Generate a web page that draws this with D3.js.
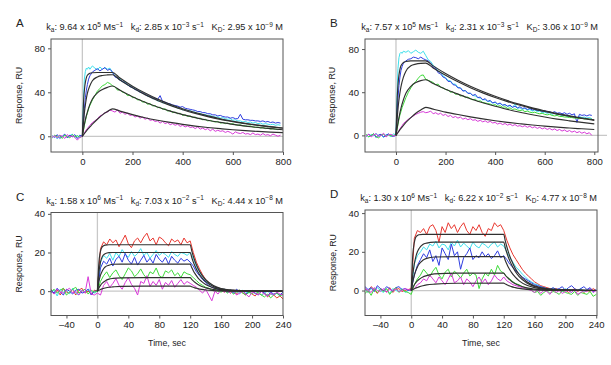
<!DOCTYPE html>
<html>
<head>
<meta charset="utf-8">
<script src="https://cdn.jsdelivr.net/npm/d3@7"></script>
<style>
body { margin: 0; background: #fff; }
svg text { font-family: "Liberation Sans", Arial, Helvetica, sans-serif; fill: #222; }
</style>
</head>
<body>
<svg id="chart" width="611" height="365"></svg>
<script>

// sampling times (sec)
var timeAB = d3.range(-120, 0, 10).concat([0, 4, 8, 12, 16, 20, 25], d3.range(30, 800, 10));
var timeCD = d3.range(-60, 244, 4);
var fitTimeAB = [0, 5, 10, 15, 20, 30, 40, 60, 80, 100, 120].concat(d3.range(150, 850, 50));
var fitTimeCD = [0, 2, 4, 6, 8, 10, 15, 20, 30, 60, 120, 122, 124, 126, 128, 130, 135, 140, 150, 160, 180, 240];

// panel titles
var panelIds = ["A", "B", "C", "D"];
var kaMant = ["9.64", "7.57", "1.58", "1.30"];
var kaExp = ["5", "5", "6", "6"];
var kdMant = ["2.85", "2.31", "7.03", "6.22"];
var kdExp = ["\u22123", "\u22123", "\u22122", "\u22122"];
var KDMant = ["2.95", "3.06", "4.44", "4.77"];
var KDExp = ["\u22129", "\u22129", "\u22128", "\u22128"];

// tick labels
var xTicksAB = [0, 200, 400, 600, 800];
var yTicksAB = [0, 40, 80];
var xTicksCD = [-40, 0, 40, 80, 120, 160, 200, 240];
var yTicksCD = [0, 20, 40];

// ---- panel A responses (RU)
var aCyan = [-1.5, 0.5, -2.5, 1, -0.5, 1.5, -1, 0.5, 2, -1, 0.5, -0.5,
    0, 30, 52, 59, 62, 61, 63,
    61, 64, 62, 60.5, 63, 61, 62.5, 61, 62, 58,
    55, 53, 52.5, 49.5, 49.5, 46.5, 46.5, 44, 43.5, 41.5, 41, 39, 38.5, 36.5, 36.5, 34, 34.5, 32, 32.5, 30.5,
    30.5, 29, 29, 27, 27.5, 25.5, 26, 24, 24.5, 23, 23.5, 22, 22, 20.5, 21, 19.5, 20, 18.5, 19, 18,
    17.5, 17.5, 16.5, 17, 16, 15.5, 16, 14.5, 15, 14, 14, 13, 13.5, 12.5, 13, 12, 12.5, 11.5, 12, 11,
    11.5, 11, 10.5, 11, 10, 10.5, 10];
var aBlue = [0.5, -1, 1.5, -2, 0, 2, -1.5, 1, -0.5, 1.5, -2, 1,
    0, 12, 25, 35, 42, 47, 52,
    55, 58.5, 60, 61.5, 59.5, 61, 62.5, 60, 61, 58.5,
    54, 53, 51, 50, 48.5, 47, 45, 44.5, 42.5, 42, 40, 39.5, 38, 37, 36, 35, 34, 33.5, 37, 31.5,
    31, 30, 29.5, 28.5, 28, 27.5, 26.5, 27, 25.5, 25, 24.5, 24, 23.5, 22.5, 22.5, 21.5, 21.5, 20.5, 20.5, 19.5,
    19.5, 18.5, 19, 18, 17.5, 17.5, 16.5, 17, 16, 16, 20, 15.5, 15, 15, 14.5, 14.5, 14, 14, 13.5, 14,
    13, 13.5, 12.5, 13, 12, 12.5, 12];
var aGreen = [-1, 1, -0.5, 0.5, -2, 1, 0, -1.5, 1.5, -0.5, 0.5, -1,
    0, 5, 10, 14, 18, 21, 25,
    28, 33, 37, 41, 43.5, 46, 47, 49, 48, 46,
    45, 42, 42.5, 40, 39.5, 37, 37.5, 35, 35.5, 33, 33.5, 31, 31.5, 29, 30, 27.5, 28, 26, 26.5, 24.5,
    25, 23, 23.5, 21.5, 22, 20.5, 21, 19, 19.5, 18, 18.5, 17, 17.5, 16, 16.5, 15, 15.5, 14, 14.5, 13.5,
    13, 13.5, 12, 12.5, 11.5, 12, 11, 11.5, 10.5, 10, 10.5, 9.5, 9.5, 9, 9.5, 8.5, 8, 8.5, 7.5, 8,
    7, 7.5, 6.5, 7, 6.5, 6, 6.5];
var aMagenta = [-1, 0.5, -1.5, 1, 0, -2, 1.5, -0.5, 0.5, -1, -3.5, -1,
    0, 1.5, 3, 4.5, 6, 7, 8.5,
    10, 12.5, 14, 16, 18.5, 19.5, 21.5, 22, 24, 23,
    22, 24, 21, 22, 20, 21, 19, 19.5, 17.5, 18.5, 16.5, 17.5, 15.5, 16.5, 14.5, 15, 13.5, 14, 12, 13.5,
    11.5, 12.5, 10.5, 11.5, 10, 11, 9, 10, 8.5, 9.5, 8, 8.5, 7, 8.5, 6.5, 7.5, 6, 7, 5, 6.5,
    4.5, 5.5, 4.5, 5, 3.5, 4.5, 3.5, 2, 4, 3, 2.5, 3.5, 2, 2.5, 1.5, 3, 1.5, 2, 1, 2.5,
    1, 1.5, 0.5, 2, 1, 0, 1];
var aFit1 = [0, 32, 46, 52.5, 55.5, 57.3, 57.8, 58, 58, 58, 58, 53.0, 45.6, 39.3, 33.8, 29.1, 25.1, 21.6, 18.6, 16.0, 13.7, 11.8, 10.2, 8.8, 7.5];
var aFit2 = [0, 14, 25, 33, 39, 46, 50.5, 54, 55.3, 55.8, 56, 51.2, 44.1, 37.9, 32.6, 28.1, 24.2, 20.8, 17.9, 15.4, 13.3, 11.4, 9.9, 8.5, 7.3];
var aFit3 = [0, 7, 13, 18, 22, 29, 34, 39.5, 42.5, 44.5, 45.7, 41.8, 36.0, 30.9, 26.6, 22.9, 19.7, 17.0, 14.6, 12.6, 10.8, 9.3, 8.0, 6.9, 5.9];
var aFit4 = [0, 1.5, 3, 4.5, 6, 8.5, 11, 15.5, 19.5, 22.5, 25, 22.9, 19.7, 16.9, 14.6, 12.6, 10.8, 9.3, 8.0, 6.9, 5.9, 5.1, 4.4, 3.8, 3.3];

// ---- panel B responses (RU)
var bCyan = [0.5, -1.5, 1, -0.5, 2, -1, 0.5, -2, 1, 0, -1, 1.5,
    0, 35, 62, 72, 76, 77, 76,
    78, 77, 78.5, 76, 77.5, 79, 77, 76, 78, 74,
    70, 68.5, 65, 63, 59.5, 58.5, 55, 53.5, 51, 50.5, 47.5, 47.5, 44.5, 44, 41.5, 41.5, 39, 39, 37, 36.5,
    35, 34.5, 33, 33, 31.5, 31.5, 30, 30.5, 29, 29.5, 28, 28.5, 27, 27.5, 26, 29, 25, 25.5, 24, 25,
    23.5, 24, 22.5, 23.5, 22, 22.5, 21, 21.5, 20.5, 21, 19.5, 20.5, 19, 19.5, 18.5, 19, 17.5, 18.5, 17, 18,
    16.5, 17.5, 16.5, 17, 16, 16.5, 15.5];
var bBlue = [-1, 1, -0.5, 1.5, -2, 0.5, 1, -1.5, 0, 1.5, -0.5, -1,
    0, 18, 34, 46, 54, 60, 64,
    67, 69, 70.5, 71, 72.5, 72, 71, 72.5, 71, 70,
    69, 67, 63, 62, 58, 57, 54, 53, 50, 50, 47, 46.5, 44, 44, 41, 41.5, 39, 39, 37, 38,
    35, 35.5, 33, 34, 31.5, 32.5, 30, 31, 29, 30, 28, 28.5, 27, 28, 26, 27, 25.5, 26.5, 25, 25.5,
    24, 25, 23.5, 24, 23, 23.5, 22, 23, 21.5, 22, 21, 22, 20.5, 21, 20, 21, 19.5, 20.5, 19, 20,
    12, 19.5, 18.5, 19, 18, 19, 18.5];
var bGreen = [1, -1.5, 0, 1.5, -1, -2.5, 0.5, 1, -1, 0.5, -0.5, 0,
    0, 5, 10, 15, 19, 22, 26,
    29, 35, 40, 44, 47.5, 50, 53, 55.5, 56, 52,
    51, 50, 49, 47, 47.5, 44.5, 44, 42.5, 42, 40, 40.5, 38, 38.5, 36.5, 37, 35, 35.5, 34, 33, 33.5,
    31.5, 32, 30.5, 30, 29.5, 29, 28, 28.5, 27, 27.5, 26, 26.5, 25, 25.5, 24, 24.5, 23.5, 23, 23.5, 22,
    22.5, 21.5, 21, 21.5, 20.5, 20, 20.5, 19.5, 19, 19.5, 18.5, 18, 18.5, 17.5, 17.5, 17, 17, 16.5, 16.5, 16,
    16, 15.5, 16, 15, 15.5, 15, 15];
var bMagenta = [-0.5, 1, -1.5, 0.5, 1.5, -1, 0, 2, -1.5, 0.5, 1, -0.5,
    0, 1.5, 3, 4.5, 6, 7.5, 9,
    11, 13, 15, 16.5, 18, 19.5, 20.5, 21.5, 22, 21,
    21.5, 22.5, 20, 21, 19.5, 20.5, 18.5, 19.5, 17.5, 18.5, 16.5, 17.5, 16, 17, 15, 16, 14.5, 15.5, 14, 14.5,
    13, 14, 12.5, 13.5, 12, 13, 11.5, 12, 10.5, 11.5, 10, 11, 9.5, 10.5, 9, 10, 8.5, 9, 8, 9,
    7.5, 8.5, 7, 8, 6.5, 7.5, 6, 7, 5.5, 6.5, 5, 6, 4.5, 5.5, 4, 5, 3.5, 4.5, 3, 4,
    2.5, 3.5, 2, 3, 1.5, 2.5, 0];
var bFit1 = [0, 35, 52, 60, 64.5, 67.5, 68.5, 69, 69, 69, 69, 64.4, 57.3, 51.1, 45.5, 40.6, 36.2, 32.2, 28.7, 25.5, 22.8, 20.3, 18.1, 16.1, 14.4];
var bFit2 = [0, 16, 29, 38, 45, 54, 59.5, 64.5, 66, 66.7, 67, 62.5, 55.7, 49.6, 44.2, 39.4, 35.1, 31.3, 27.9, 24.8, 22.1, 19.7, 17.6, 15.6, 13.9];
var bFit3 = [0, 7.5, 14, 20, 25, 33, 39, 45.5, 49, 50.7, 51.5, 48.0, 42.8, 38.2, 34.0, 30.3, 27.0, 24.1, 21.4, 19.1, 17.0, 15.1, 13.5, 12.0, 10.7];
var bFit4 = [0, 1.6, 3.3, 4.9, 6.5, 9.2, 12, 16.5, 20.5, 23.5, 26, 24.3, 21.6, 19.3, 17.2, 15.3, 13.6, 12.1, 10.8, 9.6, 8.6, 7.6, 6.8, 6.1, 5.4];

// ---- panel C responses (RU)
var cRed = [1, -1.5, 0.5, -2, 1.5, -0.5, -1, 1, -2, 0.5, 1.5, -1, 0, -1.5, 0.5,
    0,
    22, 25.5, 24, 27, 25, 26.5, 23, 26, 29, 24.5, 22.5, 26, 27.5, 25, 28, 30, 26, 27.5, 24, 28,
    27, 25, 23.5, 27, 25.5, 26.5, 24, 27.5, 25, 26,
    20, 15, 11.5, 8.5, 6, 4.5, 3, 2, 1, 0.5, -0.5, 0.5, -1, 0, -1.5, 0.5, -1, -2, 0, -1.5,
    -2.5, -0.5, -2, -1, -3, -1.5, -2, -3.5, -2.5, -4];
var cCyan = [-1, 0.5, -2.5, 1, -0.5, 0.5, -1.5, 1.5, -1, -2, 0.5, -0.5, 1, 0, -1,
    0,
    15, 18.5, 17, 19.5, 16, 20, 18, 21.5, 19, 17.5, 20.5, 18, 19.5, 22, 18.5, 20, 17, 19, 21, 18.5,
    20, 19, 17.5, 20.5, 19, 18, 20, 19.5, 18.5, 20,
    17, 13, 10, 7.5, 5.5, 4, 3, 2, 1.5, 0.5, 1, -0.5, 0.5, -1, 0, -1.5, 0.5, -0.5, -1, 0,
    -1.5, -0.5, -2, -1, 0, -1.5, -2, -1, -2.5, -1.5];
var cBlue = [0.5, -1, 1.5, -0.5, -2, 1, 0, -1.5, 0.5, 1, -1, -0.5, 1, -2, 0,
    0,
    12, 15.5, 14, 17, 13, 16.5, 18, 15, 19.5, 16, 14, 17.5, 13.5, 16, 18.5, 15, 17, 14.5, 19, 16.5,
    15, 17.5, 14, 18, 16, 14.5, 17, 15.5, 16.5, 15,
    13, 10, 8, 6, 4.5, 3, 2, 1.5, 1, 0, 1, -0.5, 0.5, -1, 1, -0.5, 0, -1.5, -0.5, 0.5,
    -1, -2, 0, -1, -2.5, -0.5, -1.5, -1, -2, -0.5];
var cGreen = [-0.5, 1, -1, 0.5, 1.5, -2, -0.5, 1, 2, -1, 0, 1, -1.5, 0.5, -0.5,
    0,
    5, 8, 10, 7, 9.5, 11, 8, 6, 9, 12, 10.5, 7.5, 9, 11.5, 8.5, 6.5, 10, 9, 12, 8,
    7, 10.5, 9.5, 11, 8, 9.5, 7, 10, 9, 8.5,
    7, 5.5, 4, 3, 2, 1.5, 0.5, 1, 0, -0.5, 0.5, -1, 0, -1.5, -0.5, 0.5, -1, -2, -0.5, -1.5,
    0, -1, -2, -3, -1.5, -3.5, -2, -1, -2.5, -1.5];
var cMagenta = [0, -1.5, 1, -0.5, -1, 0.5, 1.5, -1, 0, -2, 0.5, -1, 7.5, -1.5, -2,
    -1,
    -2, 3, 5, 2, 4, 6.5, 3, 1, 4.5, 7, 3.5, 1.5, -2, 5, 4, 8, 2.5, 5, 3, 6,
    1, 4.5, 3, 5.5, 2, 4, 6, 3.5, 5, 4,
    3, 2, 0.5, -1, 1, -2, -5, 0, -1.5, 1, -0.5, 0, -1, 0.5, -2, -1, 0, -1.5, -3, -0.5,
    -1, -2, 0, -1.5, -2.5, -1, -2, -0.5, -1.5, -2];
var cFit1 = [0, 15.1, 20.6, 22.8, 23.5, 23.8, 24, 24, 24, 24, 24, 20.9, 18.1, 15.7, 13.7, 11.9, 8.4, 5.9, 2.9, 1.4, 0.4, 0];
var cFit2 = [0, 10, 15, 17.6, 18.8, 19.4, 19.9, 20, 20, 20, 20, 17.4, 15.1, 13.1, 11.4, 9.9, 7.0, 4.9, 2.4, 1.2, 0.3, 0];
var cFit3 = [0, 5, 8.3, 10.2, 11.6, 12.5, 13.4, 13.9, 14, 14, 14, 12.2, 10.6, 9.2, 8.0, 6.9, 4.9, 3.4, 1.7, 0.8, 0.2, 0];
var cFit4 = [0, 1.7, 3.0, 4.0, 4.7, 5.3, 6.2, 6.6, 6.9, 7, 7, 6.1, 5.3, 4.6, 4.0, 3.5, 2.4, 1.7, 0.85, 0.4, 0.1, 0];
var cFit5 = [0, 0.5, 0.9, 1.2, 1.4, 1.6, 2.0, 2.2, 2.5, 2.6, 2.6, 2.3, 2.0, 1.7, 1.5, 1.3, 0.9, 0.6, 0.3, 0.15, 0.04, 0];

// ---- panel D responses (RU)
var dRed = [1, -1, 2, 0.5, -1.5, 1, 0, -0.5, 1.5, -1, 0.5, 1, -0.5, 0, 0.5,
    1,
    27, 31, 30, 32, 29, 33, 34, 31, 25, 33, 30, 35, 32, 34, 30, 33, 35, 31, 29, 33,
    31, 34, 30, 28, 32, 31, 35, 33, 34, 31,
    26, 22, 18.5, 16, 13.5, 11, 9, 7.5, 6, 4.5, 3.5, 2.5, 2, 1.5, 1, 0.5, 1, 0, -0.5, 0.5,
    -1, 0, 1, -0.5, 0.5, -1, 0, -0.5, 1, 0];
var dCyan = [0.5, -1, 1, -0.5, 1.5, 0, -1, 0.5, -1.5, 1, 0, -0.5, 1, -1, 0,
    0,
    14, 18, 20, 22.5, 21, 24, 23, 25.5, 22, 24, 23.5, 21, 25, 23, 26, 22.5, 24.5, 23, 21.5, 25,
    23, 22, 24.5, 23.5, 22, 24, 25, 22.5, 24, 23,
    20, 17, 14.5, 12, 10.5, 8.5, 7, 5.5, 4.5, 3.5, 3, 2, 1.5, 1, 0.5, 1, 0, 0.5, -0.5, 1,
    0, -1, 0.5, 0, 1, -0.5, 0, 1, -1, 0.5];
var dBlue = [2, 0.5, 1.5, -0.5, 2.5, 1, 0, 2, 1, -0.5, 1.5, 2, 0.5, 1, 0,
    0.5,
    8, 13, 16, 19, 17, 21, 15, 18, 13, 22, 19, 16, 24, 18, 20, 11, 17, 19, 22, 16,
    18, 17, 20, 17.5, 19, 16.5, 18, 20.5, 17, 18,
    16, 13.5, 12, 10, 8.5, 7, 6, 5, 4, 3, 2.5, 2, 1.5, 1, 0.5, 1.5, 0.5, 1, 2, 0,
    1.5, 2.5, 1, 0, 1, 2, 0.5, 1.5, -0.5, 0.5];
var dGreen = [-1.5, 0, -2.5, 1, -1, 0.5, -0.5, 1, -2, 0, 1.5, -1, 0.5, -0.5, -1,
    -2,
    3, 6, 8, 11, 9, 7, 10, 12, 8, 6, 9.5, 11, 7, 10, 8.5, 6.5, 9, 11, 7.5, 9,
    8, 1, 6, 9, 7.5, 11, 8, 13, 10, 9,
    7, 6, 4.5, 3.5, 3, 2, 1.5, 1, 0, -1, -0.5, -2.5, -1, 0, -1.5, -0.5, -1, -2, 0, -1,
    -1.5, -2, -0.5, -2.5, -1, -1.5, -2, -0.5, -3, -2];
var dMagenta = [1, 0, -1, 1.5, 0, -0.5, 1, -1, 0.5, 0, 1, -0.5, 0, 1, 0.5,
    0,
    1, 3, 4, 6, 5, 8, 6, 4, 7, 5, 3, 6, 9, 4, 5, 7, 3, 6, 4.5, 2,
    5, 7, 4, 6, 3, 5, 8, 6, 5, 7,
    5, 4, 3, 2.5, 2, 1.5, 1, 0.5, 0, -1, 0.5, -1.5, 0, -0.5, -2, 0.5, -1, 0, -1.5, -0.5,
    0, -1, 0.5, -2, -1, 0, -0.5, 1, -1, 0];
var dFit1 = [0, 18.3, 24.9, 27.6, 28.4, 28.8, 29, 29, 29, 29, 29, 25.6, 22.6, 20.0, 17.6, 15.6, 11.4, 8.4, 4.5, 2.4, 0.7, 0];
var dFit2 = [0, 8.2, 13.8, 17.5, 20, 21.6, 23.8, 24.5, 25, 25, 25, 22.1, 19.5, 17.2, 15.2, 13.4, 9.8, 7.2, 3.9, 2.1, 0.6, 0];
var dFit3 = [0, 4.5, 7.9, 10.3, 12.2, 13.6, 15.6, 16.6, 17.3, 17.5, 17.5, 15.5, 13.7, 12.0, 10.6, 9.4, 6.9, 5.0, 2.7, 1.5, 0.4, 0];
var dFit4 = [0, 1.6, 3.0, 4.1, 5.0, 5.7, 7.0, 7.7, 8.6, 9, 9, 7.9, 7.0, 6.2, 5.5, 4.8, 3.5, 2.6, 1.4, 0.75, 0.2, 0];
var dFit5 = [0, 0.5, 0.9, 1.3, 1.6, 1.9, 2.5, 2.9, 3.3, 3.75, 3.8, 3.4, 3.0, 2.6, 2.3, 2.0, 1.5, 1.1, 0.6, 0.3, 0.1, 0];


var colors = {cyan: "#3fe0ec", blue: "#2f3ee0", green: "#3edb3a", magenta: "#d83ad8", red: "#e8372f"};

var panels = [
    {x0: 51, x1: 283, y0: 39, y1: 152, xd: [-125, 800], yd: [-14.3, 88.5], xt: xTicksAB, yt: yTicksAB,
     time: timeAB, fitTime: fitTimeAB, labelX: 19, zeroExt: 0, xlabel: false,
     data: [[aCyan, "cyan"], [aBlue, "blue"], [aGreen, "green"], [aMagenta, "magenta"]],
     fits: [aFit1, aFit2, aFit3, aFit4]},
    {x0: 365, x1: 598, y0: 39, y1: 152, xd: [-125, 815], yd: [-15.4, 89.3], xt: xTicksAB, yt: yTicksAB,
     time: timeAB, fitTime: fitTimeAB, labelX: 332, zeroExt: 9, xlabel: false,
     data: [[bCyan, "cyan"], [bBlue, "blue"], [bGreen, "green"], [bMagenta, "magenta"]],
     fits: [bFit1, bFit2, bFit3, bFit4]},
    {x0: 51, x1: 283, y0: 212.5, y1: 315.5, xd: [-60, 240], yd: [-12.6, 40.7], xt: xTicksCD, yt: yTicksCD,
     time: timeCD, fitTime: fitTimeCD, labelX: 19, zeroExt: 0, xlabel: true,
     data: [[cRed, "red"], [cCyan, "cyan"], [cBlue, "blue"], [cGreen, "green"], [cMagenta, "magenta"]],
     fits: [cFit1, cFit2, cFit3, cFit4, cFit5]},
    {x0: 365, x1: 597, y0: 210, y1: 315.5, xd: [-60, 241], yd: [-12.9, 41.6], xt: xTicksCD, yt: yTicksCD,
     time: timeCD, fitTime: fitTimeCD, labelX: 333, zeroExt: 0, xlabel: true,
     data: [[dRed, "red"], [dCyan, "cyan"], [dBlue, "blue"], [dGreen, "green"], [dMagenta, "magenta"]],
     fits: [dFit1, dFit2, dFit3, dFit4, dFit5]}
];

var drawPanels = {
    init: function(svg){

        panels.forEach(function(p, i){

            var x = d3.scaleLinear().domain(p.xd).range([p.x0, p.x1]);
            var y = d3.scaleLinear().domain(p.yd).range([p.y1, p.y0]);

            var g = svg.append("g").attr("class", "panel");

            var clipId = "clip" + i;
            g.append("clipPath").attr("id", clipId)
              .append("rect")
                .attr("x", p.x0).attr("y", p.y0)
                .attr("width", p.x1 - p.x0).attr("height", p.y1 - p.y0);

            // reference lines at t = 0 and response = 0
            g.append("line")
                .attr("x1", x(0)).attr("x2", x(0))
                .attr("y1", p.y0).attr("y2", p.y1)
                .attr("stroke", "#c8c8c8").attr("stroke-width", 1.3)
            g.append("line")
                .attr("x1", x(0)).attr("x2", p.x1 + p.zeroExt)
                .attr("y1", y(0)).attr("y2", y(0))
                .attr("stroke", "#c8c8c8").attr("stroke-width", 1.3)

            var plot = g.append("g").attr("clip-path", "url(#" + clipId + ")");

            var dataLine = d3.line()
                .defined(function(d){ return d[1] != null; })
                .x(function(d){ return x(d[0]); })
                .y(function(d){ return y(d[1]); });

            plot.selectAll(".trace")
                .data(p.data)
                .enter()
                .append("path")
                .attr("class", "trace")
                .attr("fill", "none")
                .attr("stroke", function(d){ return colors[d[1]]; })
                .attr("stroke-width", 1)
                .attr("stroke-linejoin", "round")
                .attr("d", function(d){
                    return dataLine(p.time.map(function(t, k){ return [t, d[0][k]]; }));
                })

            var fitLine = d3.line()
                .curve(d3.curveMonotoneX)
                .x(function(d){ return x(d[0]); })
                .y(function(d){ return y(d[1]); });

            plot.selectAll(".fit")
                .data(p.fits)
                .enter()
                .append("path")
                .attr("class", "fit")
                .attr("fill", "none")
                .attr("stroke", "#303030")
                .attr("stroke-width", 1.15)
                .attr("d", function(d){
                    return fitLine(p.fitTime.map(function(t, k){ return [t, d[k]]; }));
                })

            // frame
            g.append("rect")
                .attr("x", p.x0).attr("y", p.y0)
                .attr("width", p.x1 - p.x0).attr("height", p.y1 - p.y0)
                .attr("fill", "none").attr("stroke", "#555").attr("stroke-width", 1)

            var xAxis = g.append("g")
                .attr("transform", "translate(0," + p.y1 + ")")
                .call(d3.axisBottom(x).tickValues(p.xt).tickSize(3).tickPadding(3).tickFormat(function(d){ return d < 0 ? "\u2013" + (-d) : d; }));
            var yAxis = g.append("g")
                .attr("transform", "translate(" + p.x0 + ",0)")
                .call(d3.axisLeft(y).tickValues(p.yt).tickSize(3).tickPadding(3));

            [xAxis, yAxis].forEach(function(a){
                a.select(".domain").remove();
                a.selectAll("line").attr("stroke", "#555");
                a.selectAll("text").attr("font-size", 9.5).attr("fill", "#222")
                    .style("font-family", "'Liberation Sans', Arial, sans-serif");
            });

            g.append("text")
                .attr("transform", "translate(" + p.labelX + "," + ((p.y0 + p.y1) / 2) + ") rotate(-90)")
                .attr("text-anchor", "middle")
                .attr("dy", "0.35em")
                .attr("font-size", 8.8)
                .text("Response, RU")

            if (p.xlabel) {
                g.append("text")
                    .attr("x", (p.x0 + p.x1) / 2)
                    .attr("y", p.y1 + 30)
                    .attr("text-anchor", "middle")
                    .attr("font-size", 8.8)
                    .text("Time, sec")
            }

            // panel letter
            g.append("text")
                .attr("x", p.x0 - 35)
                .attr("y", p.y0 - 12)
                .attr("font-size", 11.5)
                .text(panelIds[i])

            // kinetic constants
            var title = g.append("text")
                .attr("x", p.x1)
                .attr("y", p.y0 - 9)
                .attr("text-anchor", "end")
                .attr("font-size", 9.2)

            var parts = [
                ["k", 0], ["a", 1], [": " + kaMant[i] + " x 10", 0], [kaExp[i], 2], [" Ms", 0], ["\u22121", 2],
                ["   k", 0], ["d", 1], [": " + kdMant[i] + " x 10", 0], [kdExp[i], 2], [" s", 0], ["\u22121", 2],
                ["   K", 0], ["D", 1], [": " + KDMant[i] + " x 10", 0], [KDExp[i], 2], [" M", 0]
            ];
            var shift = 0;
            parts.forEach(function(part){
                var target = part[1] == 1 ? 2 : (part[1] == 2 ? -3.3 : 0);
                title.append("tspan")
                    .attr("dy", target - shift)
                    .attr("font-size", part[1] ? 6.5 : 9.2)
                    .attr("xml:space", "preserve")
                    .style("white-space", "pre")
                    .text(part[0]);
                shift = target;
            });

        });
    }
}

drawPanels.init(d3.select("#chart"));

</script>
</body>
</html>
